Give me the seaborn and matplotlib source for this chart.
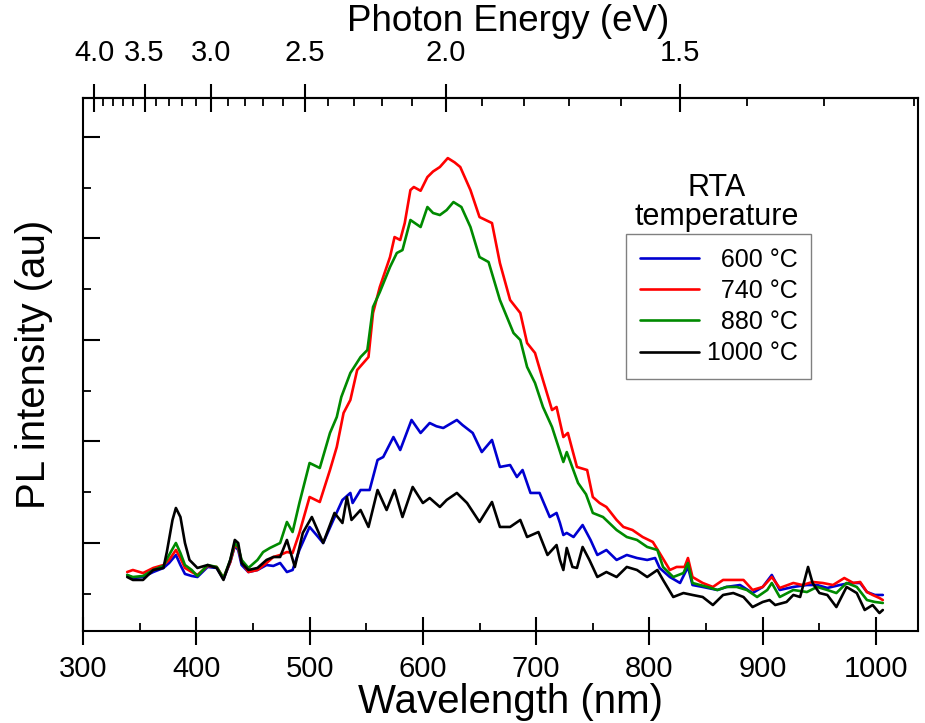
import numpy as np
import pandas as pd
import matplotlib
matplotlib.use("Agg")
import matplotlib.pyplot as plt
from matplotlib.ticker import FixedLocator, MultipleLocator, FormatStrFormatter, NullFormatter
from matplotlib.lines import Line2D
import seaborn as sns

# ---------------- data ----------------
series_labels = ["600 °C", "740 °C", "880 °C", "1000 °C"]
series_colors = ["#0000d0", "#ff0000", "#008a00", "#000000"]

wl_600 = [339, 344, 353, 362, 371, 376, 382, 386, 390, 396, 401, 410, 418, 424, 430, 434, 437, 440, 446, 454,
          462, 468, 474, 480, 485, 491, 500, 506, 512, 521, 529, 536, 538, 545, 553, 560, 565, 574, 580, 590,
          598, 606, 612, 618, 630, 635, 644, 652, 661, 668, 677, 683, 688, 695, 703, 712, 718, 721, 724, 727,
          733, 741, 748, 754, 762, 771, 780, 789, 798, 805, 809, 818, 827, 834, 838, 847, 860, 868, 880, 891,
          900, 908, 915, 927, 939, 948, 957, 968, 977, 986, 992, 999, 1006]
I_600 = [685, 655, 665, 714, 754, 803, 882, 783, 695, 675, 665, 764, 754, 645, 813, 970, 931, 783, 714, 734,
         783, 774, 803, 714, 734, 931, 1158, 1080, 1000, 1227, 1424, 1493, 1394, 1522, 1522, 1818, 1847, 2044, 1916, 2212,
         2084, 2182, 2150, 2133, 2212, 2162, 2084, 1896, 2015, 1749, 1768, 1650, 1719, 1493, 1493, 1256, 1296, 1197, 1079, 1099,
         1059, 1177, 1030, 882, 931, 833, 882, 852, 833, 852, 754, 665, 606, 764, 586, 567, 537, 567, 586, 507,
         567, 685, 537, 567, 586, 586, 557, 586, 606, 606, 517, 488, 488]

wl_740 = [339, 344, 353, 362, 371, 376, 382, 386, 390, 396, 401, 410, 418, 424, 430, 434, 437, 440, 446, 454,
          462, 468, 474, 480, 485, 491, 500, 509, 518, 524, 530, 536, 542, 552, 556, 562, 571, 575, 580, 584,
          589, 592, 598, 604, 609, 615, 622, 628, 633, 642, 650, 661, 668, 677, 686, 692, 699, 706, 714, 718,
          724, 728, 736, 745, 750, 756, 762, 771, 777, 785, 794, 803, 809, 818, 824, 831, 834, 838, 847, 856,
          865, 874, 883, 891, 900, 908, 915, 927, 935, 944, 953, 962, 972, 980, 986, 992, 997, 1003, 1006]
I_740 = [714, 734, 704, 754, 783, 833, 931, 852, 754, 714, 685, 774, 764, 655, 813, 980, 951, 813, 714, 734,
         803, 862, 882, 911, 901, 1099, 1453, 1404, 1719, 1946, 2281, 2409, 2704, 2832, 3266, 3522, 3817, 4014, 3985, 4152,
         4477, 4507, 4470, 4605, 4660, 4704, 4792, 4750, 4704, 4477, 4211, 4152, 3758, 3394, 3266, 2970, 2872, 2606, 2310, 2340,
         2044, 2084, 1749, 1719, 1453, 1394, 1355, 1227, 1158, 1128, 1059, 1010, 901, 734, 764, 764, 852, 665, 606, 567,
         636, 636, 636, 537, 567, 665, 557, 606, 586, 616, 606, 586, 655, 606, 616, 517, 488, 458, 438]

wl_880 = [339, 344, 353, 362, 371, 376, 382, 386, 390, 396, 401, 410, 418, 424, 430, 434, 437, 440, 446, 454,
          459, 465, 474, 480, 485, 491, 500, 509, 518, 524, 528, 536, 545, 551, 556, 562, 571, 577, 582, 589,
          598, 604, 609, 615, 621, 627, 634, 642, 650, 658, 668, 680, 686, 692, 699, 706, 714, 724, 727, 737,
          744, 750, 759, 771, 780, 789, 798, 807, 812, 821, 830, 834, 838, 851, 860, 868, 877, 886, 895, 904,
          908, 915, 927, 939, 948, 957, 965, 974, 983, 992, 999, 1006]
I_880 = [685, 665, 675, 734, 774, 882, 1000, 901, 783, 734, 675, 783, 764, 655, 833, 1000, 961, 833, 754, 833,
         911, 951, 1000, 1207, 1108, 1394, 1788, 1739, 2084, 2241, 2438, 2675, 2832, 2901, 3325, 3472, 3719, 3857, 3886, 4182,
         4113, 4310, 4251, 4231, 4280, 4359, 4310, 4113, 3817, 3768, 3394, 3069, 3000, 2734, 2576, 2340, 2143, 1798, 1896, 1591,
         1480, 1296, 1256, 1128, 1059, 1030, 961, 931, 764, 665, 704, 803, 606, 567, 537, 567, 567, 537, 468, 537,
         606, 468, 537, 517, 567, 537, 507, 606, 567, 438, 419, 409]

wl_1000 = [339, 344, 353, 362, 371, 374, 379, 382, 386, 390, 394, 401, 410, 418, 424, 430, 434, 437, 440, 446,
           454, 462, 468, 474, 480, 487, 494, 502, 512, 522, 529, 533, 537, 545, 552, 560, 568, 575, 582, 591,
           600, 606, 615, 621, 630, 639, 650, 661, 668, 677, 686, 692, 702, 710, 718, 721, 724, 727, 732, 736,
           741, 747, 754, 762, 771, 780, 789, 798, 807, 812, 821, 830, 838, 847, 856, 865, 874, 883, 891, 900,
           906, 911, 921, 927, 933, 940, 944, 950, 957, 965, 974, 983, 990, 997, 1003, 1006]
I_1000 = [665, 636, 636, 734, 754, 911, 1227, 1345, 1256, 1000, 833, 754, 783, 754, 636, 833, 1030, 1000, 803, 734,
          754, 833, 862, 862, 1030, 764, 1099, 1256, 1000, 1296, 1197, 1453, 1227, 1325, 1158, 1522, 1325, 1522, 1256, 1552,
          1394, 1443, 1355, 1424, 1493, 1394, 1207, 1404, 1158, 1158, 1227, 1059, 1108, 882, 980, 833, 734, 951, 764, 754,
          961, 833, 665, 714, 665, 764, 734, 665, 734, 636, 468, 507, 488, 468, 389, 488, 507, 468, 369, 419,
          438, 389, 419, 488, 468, 764, 606, 507, 488, 369, 567, 507, 340, 389, 310, 340]

x_major_ticks = [300, 400, 500, 600, 700, 800, 900, 1000]
ev_major_ticks = [4.0, 3.5, 3.0, 2.5, 2.0, 1.5]
ev_minor_ticks = [1.2, 1.3, 1.4, 1.6, 1.7, 1.8, 1.9, 2.1, 2.2, 2.3, 2.4, 2.6, 2.7, 2.8, 2.9,
                  3.1, 3.2, 3.3, 3.4, 3.6, 3.7, 3.8, 3.9]

# ---------------- long-form table ----------------
frames = []
for lab, wl, inten in zip(series_labels,
                          [wl_600, wl_740, wl_880, wl_1000],
                          [I_600, I_740, I_880, I_1000]):
    frames.append(pd.DataFrame({"Wavelength": wl, "Intensity": inten, "RTA": lab}))
df = pd.concat(frames, ignore_index=True)

# ---------------- style ----------------
sns.set_theme(style="ticks")
plt.rcParams["font.family"] = ["Liberation Sans", "DejaVu Sans"]
plt.rcParams["axes.linewidth"] = 1.5

W, H = 925, 723
fig = plt.figure(figsize=(W / 100, H / 100), dpi=100)
ax_l, ax_r, ax_t, ax_b = 83, 918, 98, 631
ax = fig.add_axes([ax_l / W, 1 - ax_b / H, (ax_r - ax_l) / W, (ax_b - ax_t) / H])

sns.lineplot(data=df, x="Wavelength", y="Intensity", hue="RTA",
             hue_order=series_labels, palette=series_colors,
             estimator=None, sort=False, linewidth=1.9, legend=False, ax=ax)

ax.set_xlim(300, 300 + (ax_r - ax_l) / 1.1329)
ax.set_ylim(133, 5384)

for s in ax.spines.values():
    s.set_color("black")
    s.set_linewidth(1.5)

# bottom axis
ax.xaxis.set_major_locator(FixedLocator(x_major_ticks))
ax.xaxis.set_minor_locator(MultipleLocator(50))
ax.tick_params(axis="x", which="major", direction="inout", length=20, width=1.5,
               labelsize=21, pad=7, bottom=True, top=False, colors="black")
ax.tick_params(axis="x", which="minor", direction="in", length=6, width=1.3,
               bottom=True, top=False, colors="black")
# left axis
ax.yaxis.set_major_locator(MultipleLocator(1000))
ax.yaxis.set_minor_locator(MultipleLocator(500))
ax.yaxis.set_major_formatter(NullFormatter())
ax.tick_params(axis="y", which="major", direction="in", length=12, width=1.5,
               left=True, right=False, labelleft=False, colors="black")
ax.tick_params(axis="y", which="minor", direction="in", length=6, width=1.3,
               left=True, right=False, colors="black")

ax.set_xlabel("Wavelength (nm)", fontsize=29, color="black")
ax.xaxis.set_label_coords(510 / W, 1 - 683 / H, transform=fig.transFigure)
ax.xaxis.label.set_va("top")
ax.set_ylabel("PL intensity (au)", fontsize=29, color="black")
ax.yaxis.set_label_coords(53 / W, 1 - 364 / H, transform=fig.transFigure)


# top axis: photon energy
def nm_to_ev(x):
    x = np.array(x, dtype=float)
    near0 = np.isclose(x, 0)
    x[near0] = np.inf
    x[~near0] = 1240.0 / x[~near0]
    return x


sec = ax.secondary_xaxis("top", functions=(nm_to_ev, nm_to_ev))
sec.xaxis.set_major_locator(FixedLocator(ev_major_ticks))
sec.xaxis.set_minor_locator(FixedLocator(ev_minor_ticks))
sec.xaxis.set_major_formatter(FormatStrFormatter("%.1f"))
sec.tick_params(axis="x", which="major", direction="inout", length=20, width=1.5,
                labelsize=21, pad=12, colors="black")
sec.tick_params(axis="x", which="minor", direction="in", length=6, width=1.3, colors="black")
sec.spines["top"].set_linewidth(1.5)
sec.set_xlabel("Photon Energy (eV)", fontsize=26.5, color="black")
sec.xaxis.set_label_coords(508 / W, 1 - 39 / H, transform=fig.transFigure)
sec.xaxis.label.set_va("bottom")

# legend
fsp = "\u2007"
legend_texts = [fsp + series_labels[0], fsp + series_labels[1], fsp + series_labels[2], series_labels[3]]
handles = [Line2D([], [], color=c, lw=1.9) for c in series_colors]
leg = ax.legend(handles, legend_texts, loc="upper left",
                bbox_to_anchor=(626 / W, 1 - 234 / H), bbox_transform=fig.transFigure,
                borderaxespad=0, fontsize=18, handlelength=2.36, handletextpad=0.32,
                borderpad=0.55, labelspacing=0.29, frameon=True, fancybox=False,
                framealpha=1, edgecolor="#808080")
leg.get_frame().set_linewidth(1.0)
for t in leg.get_texts():
    t.set_color("black")

fig.text(717 / W, 1 - 231.5 / H, "RTA\ntemperature", ha="center", va="bottom",
         fontsize=22, linespacing=0.95, multialignment="center", color="black")

fig.savefig("out.png", dpi=100, facecolor="white")
